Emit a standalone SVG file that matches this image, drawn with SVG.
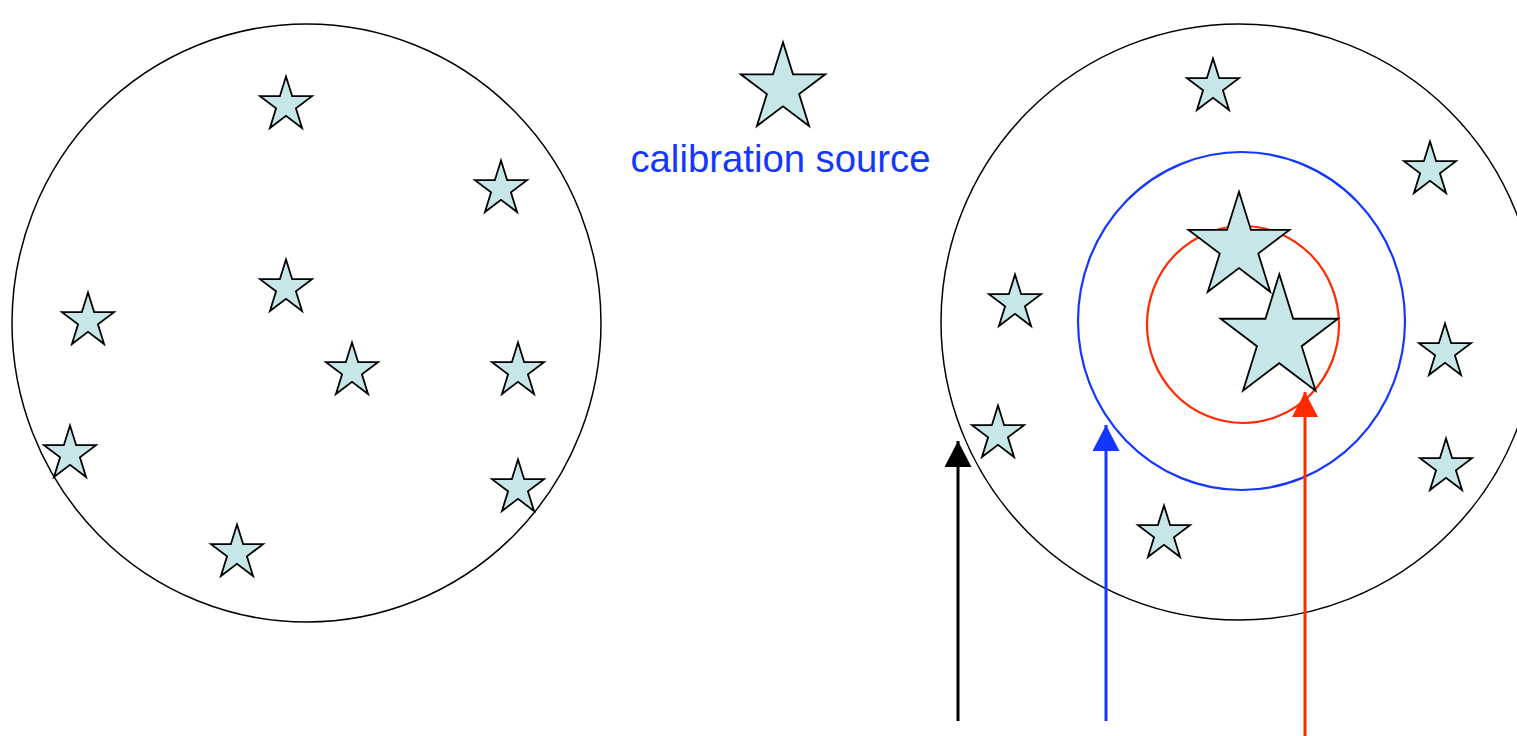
<svg xmlns="http://www.w3.org/2000/svg" xmlns:xlink="http://www.w3.org/1999/xlink" width="1517" height="736" viewBox="0 0 1517 736">
<style>
.star{fill:#c6e6e8;stroke:#000;stroke-width:1.8;stroke-linejoin:miter;vector-effect:non-scaling-stroke}
.ring{fill:none}
.lbl{font-family:"Liberation Sans",Arial,sans-serif;font-size:38.3px;fill:#1437ff}
</style>
<defs>
<path id="s" class="star" d="M0,-100 L21.6,-30.9 L91.3,-30.9 L34.8,11.8 L56.4,80.9 L0,38.2 L-56.4,80.9 L-34.8,11.8 L-91.3,-30.9 L-21.6,-30.9 Z"/>
<marker id="ak" markerUnits="userSpaceOnUse" markerWidth="28" markerHeight="27" refX="26" refY="13.5" orient="auto"><path d="M0,0 L26,13.5 L0,27 Z" fill="#000"/></marker>
<marker id="ab" markerUnits="userSpaceOnUse" markerWidth="28" markerHeight="27" refX="26" refY="13.5" orient="auto"><path d="M0,0 L26,13.5 L0,27 Z" fill="#1437ff"/></marker>
<marker id="ar" markerUnits="userSpaceOnUse" markerWidth="28" markerHeight="27" refX="25" refY="13" orient="auto"><path d="M0,0 L25,13 L0,26 Z" fill="#ff2a00"/></marker>
</defs>
<rect width="1517" height="736" fill="#fff"/>
<g id="field-left">
<use href="#s" transform="translate(286,105) scale(0.285)"/>
<use href="#s" transform="translate(501,189) scale(0.285)"/>
<use href="#s" transform="translate(286,288) scale(0.285)"/>
<use href="#s" transform="translate(88,321) scale(0.285)"/>
<use href="#s" transform="translate(352,371) scale(0.285)"/>
<use href="#s" transform="translate(518,371) scale(0.285)"/>
<use href="#s" transform="translate(70,454) scale(0.285)"/>
<use href="#s" transform="translate(518,488) scale(0.285)"/>
<use href="#s" transform="translate(237,553) scale(0.285)"/>
<ellipse class="ring" cx="306.5" cy="323" rx="294.5" ry="299" stroke="#000" stroke-width="1.5"/>
</g>
<g id="calibration-source">
<use href="#s" transform="translate(783,88.6) scale(0.463)"/>
<text class="lbl" x="780.5" y="171.5" text-anchor="middle">calibration source</text>
</g>
<g id="field-right">
<circle class="ring" cx="1239" cy="322" r="298" stroke="#000" stroke-width="1.5"/>
<ellipse class="ring" cx="1241.5" cy="321" rx="163.5" ry="169" stroke="#1437ff" stroke-width="2.2"/>
<ellipse class="ring" cx="1243" cy="324.5" rx="96" ry="98.5" stroke="#ff2a00" stroke-width="2.2"/>
<use href="#s" transform="translate(1213,87) scale(0.285)"/>
<use href="#s" transform="translate(1430,170) scale(0.285)"/>
<use href="#s" transform="translate(1015,303) scale(0.285)"/>
<use href="#s" transform="translate(1445,352) scale(0.285)"/>
<use href="#s" transform="translate(998,434) scale(0.285)"/>
<use href="#s" transform="translate(1446,467) scale(0.285)"/>
<use href="#s" transform="translate(1164,534) scale(0.285)"/>
<use href="#s" transform="translate(1239,247) scale(0.553)"/>
<use href="#s" transform="translate(1279.3,338.6) scale(0.643)"/>
</g>
<g id="connectors" stroke-width="3" fill="none">
<line x1="958" y1="721" x2="958" y2="441" stroke="#000" marker-end="url(#ak)"/>
<line x1="1106" y1="721" x2="1106" y2="425" stroke="#1437ff" marker-end="url(#ab)"/>
<line x1="1305" y1="740" x2="1305" y2="392" stroke="#ff2a00" marker-end="url(#ar)"/>
</g>
</svg>
